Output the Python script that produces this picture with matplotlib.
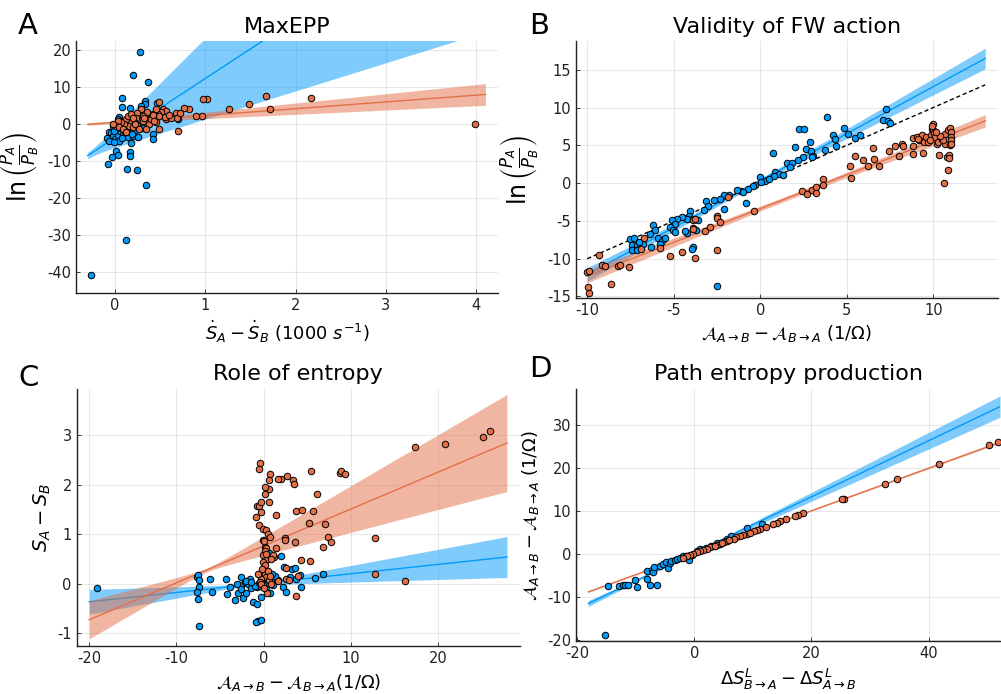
import numpy as np
import matplotlib
matplotlib.use("Agg")
import matplotlib.pyplot as plt

plt.rcParams['font.family'] = ['DejaVu Sans']
plt.rcParams['mathtext.fontset'] = 'dejavusans'
plt.rcParams['axes.unicode_minus'] = False

BLUE = '#009AFA'
ORANGE = '#E36F47'

# ---------------- Panel A data ----------------
A_blue_x = [0.28, 0.196, 0.37, 0.074, 0.336, 0.336, 0.074, 0.17, 0.29, 0.465, 0.70, 0.048,
            0.03, -0.026, -0.07, -0.044, -0.092, -0.063, -0.026, 0.004, 0.03, 0.055, 0.085,
            0.12, 0.14, 0.177, 0.2, 0.048, -0.007, 0.177, 0.26, 0.42, 0.42, 0.373, 0.011,
            0.03, -0.037, 0.17, 0.17, -0.074, 0.133, 0.25, 0.085, 0.1, 0.34, -0.26, 0.122,
            0.02, 0.06, 0.11, 0.15, 0.22, 0.08, -0.01, 0.05, 0.13, 0.19, 0.24, 0.31]
A_blue_y = [19.5, 13.2, 11.3, 7.2, 6.3, 5.6, 4.66, 4.5, 4.9, 5.8, 1.55, 2.08,
            1.37, -0.42, -2.0, -2.4, -3.7, -4.4, -3.1, -4.0, -2.9, -1.75, -2.6,
            -1.3, -3.5, -2.2, -3.1, -4.4, -4.9, -5.05, -3.5, -2.6, -4.0, 1.1, -7.1,
            -8.4, -8.9, -7.4, -8.6, -10.7, -12.0, -12.45, -0.4, 0.5, -16.5, -40.8, -31.2,
            -1.0, -0.6, -2.0, 0.2, -1.5, -3.8, -1.8, 0.8, -0.9, -2.7, -0.2, -1.1]
A_orange_x = [3.98, 2.17, 1.67, 1.72, 1.49, 1.26, 1.02, 0.96, 0.82, 0.97, 0.76, 0.70, 0.9,
              0.68, 0.49, 0.535, 0.565, 0.51, 0.565, 0.48, 0.425, 0.355, 0.355, 0.373,
              0.306, 0.27, 0.29, 0.25, 0.233, 0.214, 0.177, 0.159, 0.12, 0.1, 0.066, 0.03,
              0.011, 0.048, 0.085, 0.12, 0.196, 0.25, 0.306, 0.325, 0.4, 0.45, 0.49, 0.45,
              0.417, 0.436, 0.225, 0.27, 0.35, 0.49, 0.14, 0.177, 0.2, -0.018, 0.69, 0.62,
              0.72, 0.55, 0.6]
A_orange_y = [0.0, 7.2, 7.6, 4.2, 5.5, 4.1, 6.7, 2.2, 4.2, 6.7, 4.3, -1.75, 2.26,
              3.15, 6.0, 4.04, 3.6, 3.3, 1.55, 2.7, 2.7, 3.3, 1.37, 0.03,
              0.92, 2.7, 4.2, 3.15, 1.8, 0.48, 0.92, -0.4, 1.37, 0.03, 0.48, 0.92,
              -0.42, -0.86, -1.3, -2.2, -0.86, -0.24, 2.26, 1.8, 1.37, 0.48, 2.26, 4.04,
              2.44, 0.92, 0.03, -1.3, -1.3, -1.2, 2.26, 2.7, 1.8, 0.03, 1.8, 1.8,
              3.0, 2.0, 2.5]
# fit: [intercept, slope, h0, k, xc]  (band half-width = sqrt(h0^2 + k^2 (x-xc)^2))
A_blue_fit = [-3.65, 16.0, 0.9, 8.4, -0.3]
A_orange_fit = [0.55, 1.83, 0.3, 0.68, -0.2]
A_fit_range = [-0.3, 4.1]

# ---------------- Panel B data ----------------
B_blue_x = [7.26, 7.1, 7.4, 7.5, 3.83, 2.24, 2.52, 4.86, 5.09, 4.22, 4.3, 5.48, 5.76, 2.87,
            2.01, 4.35, 3.73, 2.64, 2.93, 3.03, 2.49, 2.2, 3.0, 0.75, 1.56, 1.85, 1.7, 0.84,
            1.1, 0.78, -0.02, 0.27, 0.02, -0.31, -0.4, -0.7, -1.14, -1.33, -0.83, -1.8, -2.1,
            -2.1, -2.3, -2.68, -3.14, -3.0, -3.27, -4.07, -4.14, -3.96, -4.26, -3.62, -4.5,
            -4.84, -5.1, -4.9, -5.2, -5.07, -4.9, -4.26, -4.35, -3.9, -3.7, -6.2, -6.1, -6.4,
            -6.3, -5.9, -5.7, -5.5, -5.8, -3.9, -3.96, -7.53, -7.3, -7.4, -7.15, -7.44, -6.96,
            -7.1, -6.76, -7.0, -2.49, 1.3, 0.5, -1.0]
B_blue_y = [9.79, 8.4, 8.2, 7.9, 8.68, 7.2, 7.1, 7.3, 6.5, 6.3, 5.8, 6.0, 6.4, 5.4,
            4.8, 4.9, 4.4, 4.5, 4.3, 3.6, 3.4, 3.0, 3.4, 4.0, 2.7, 2.7, 2.1, 1.5,
            1.26, 0.9, 0.8, 0.3, 0.15, -0.2, -0.4, -0.8, -1.1, -0.9, -2.6, -1.6, -1.6,
            -3.4, -2.1, -2.3, -2.4, -3.0, -3.5, -3.7, -4.4, -4.8, -4.8, -4.9, -4.5,
            -4.7, -4.9, -5.4, -5.8, -6.25, -6.5, -6.6, -6.3, -6.0, -6.2, -5.6, -6.25, -6.7,
            -8.5, -7.2, -7.6, -7.2, -8.0, -8.5, -8.7, -7.4, -7.2, -8.2, -8.2, -8.8, -8.6,
            -8.9, -8.1, -7.8, -13.6, 1.1, 0.6, -1.2]
B_orange_x = [-10.0, -9.9, -9.94, -9.88, -9.3, -9.17, -8.98, -8.65, -8.2, -8.1, -7.6, -6.72,
              -6.9, -5.8, -5.2, -4.55, -3.78, -3.9, -3.9, -3.78, -3.2, -2.91, -2.51, -2.48,
              -2.3, -2.52, -1.85, -0.39, 2.39, 2.72, 3.0, 3.22, 3.2, 3.6, 3.6, 5.18, 5.24,
              5.47, 5.95, 6.24, 6.53, 6.57, 6.88, 7.46, 7.78, 8.04, 8.17, 8.23, 8.81, 8.84,
              8.81, 9.04, 9.2, 9.33, 9.46, 9.42, 9.6, 9.7, 9.84, 9.9, 10.0, 10.0, 10.04, 10.1,
              10.2, 9.8, 10.27, 10.33, 10.48, 10.67, 10.7, 10.77, 10.63, 10.83, 10.87, 10.93,
              10.96, 10.96, 11.0, 11.0, 11.0, 11.0, 10.93, 10.58, 9.95, 10.4, 9.1, 10.15]
B_orange_y = [-11.8, -11.6, -13.7, -14.5, -9.5, -10.8, -11.0, -13.4, -11.0, -10.9, -11.1, -7.3,
              -8.7, -8.6, -9.7, -9.1, -9.9, -6.1, -4.9, -4.7, -6.3, -5.8, -4.3, -4.6,
              -5.2, -8.8, -1.8, -3.7, -1.0, -1.5, -0.85, -0.5, -1.3, 0.5, -0.3, 2.3, 0.7,
              3.55, 3.0, 2.2, 4.7, 3.2, 2.3, 4.3, 4.9, 3.6, 5.2, 4.9, 6.0, 4.9,
              3.9, 6.1, 5.7, 6.3, 5.5, 4.0, 6.1, 5.5, 6.3, 7.2, 7.8, 7.0, 6.6, 6.1,
              5.2, 5.7, 5.45, 3.7, 5.9, 6.5, 5.2, 3.5, 0.0, 7.0, 1.8, 3.7,
              5.1, 7.3, 6.8, 6.1, 5.7, 5.2, 3.3, 5.7, 7.5, 6.2, 5.9, 6.8]
B_blue_fit = [0.33, 1.243, 0.3, 0.095, -1.0]
B_orange_fit = [-3.37, 0.893, 0.3, 0.07, 2.0]
B_fit_range = [-10.0, 13.0]
B_ref_line = [-10.0, 13.0]   # y = x reference

# ---------------- Panel C data ----------------
C_orange_x = [25.92, 25.16, 20.84, 17.33, 12.74, 16.26, 12.82, 8.73, 8.92, 9.38, 5.48, 6.13,
              5.67, 5.18, 7.0, 7.4, 7.78, 6.82, 5.29, 3.38, 3.46, 2.73, 2.04, 1.66, 0.78,
              0.63, 0.63, 0.13, 0.13, -0.44, -0.55, -0.74, -0.51, -0.82, -0.25, -0.25, 0.6,
              1.47, 3.73, 4.42, 3.54, 2.4, 2.4, 4.23, 1.43, 2.62, -0.55, -0.06, 0.32, 0.5,
              0.78, -0.06, 0.2, 0.32, 0.13, -0.06, 0.5, 0.32, -0.06, 1.2, 1.05, 0.82, 0.13,
              -0.06, 0.13, 0.32, -0.25, 0.6, -0.06, 0.44, -0.44, 2.6, 2.9, 3.73, 3.94,
              0.0, 0.25, -0.2, 0.45, 0.7, -0.35, 0.05, 0.9, 1.6, -0.6]
C_orange_y = [3.08, 2.97, 2.82, 2.76, 0.93, 0.05, 0.2, 2.24, 2.28, 2.21, 2.27, 1.81,
              1.46, 1.23, 1.21, 0.94, 0.83, 0.73, 0.45, 2.09, 2.01, 2.17, 2.11, 2.11, 2.22,
              2.09, 1.92, 1.95, 1.82, 2.44, 2.31, 1.57, 1.56, 1.35, 1.65, 1.45, 1.64,
              1.38, 1.46, 1.48, 0.83, 0.93, 0.89, 0.47, 0.71, 0.32, 1.18, 1.11, 1.08, 1.0,
              0.94, 0.89, 0.74, 0.71, 0.66, 0.57, 0.54, 0.47, 0.44, 0.54, 0.57, 0.49, 0.37,
              0.27, 0.2, 0.13, 0.1, 0.07, -0.04, -0.19, 0.03, 0.1, 0.07, -0.26, 0.16,
              0.85, 0.6, 0.3, 0.25, 0.15, 0.0, -0.1, 0.0, 0.05, 0.2]
C_blue_x = [-19.08, -7.7, -7.5, -7.4, -7.4, -7.7, -7.5, -7.4, -6.17, -5.94, -4.34, -4.18,
            -3.9, -3.3, -2.9, -2.54, -2.65, -2.15, -2.35, -1.97, -1.78, -1.6, -1.4, -1.2,
            -0.8, -0.74, -0.63, -0.82, -0.36, -0.25, -0.44, -0.06, 0.9, 0.78, 1.08, 1.66,
            2.04, 2.35, 2.23, 2.6, 3.0, 3.3, 3.57, 3.76, 4.15, 4.34, 5.86, 6.8, 0.63,
            -3.0, -2.0, -1.0, -0.5, 0.3, 0.6, 1.3, -2.6, -1.5, 0.1, 1.0]
C_blue_y = [-0.10, 0.13, 0.18, 0.07, -0.07, -0.17, -0.31, -0.85, 0.09, -0.18, 0.09, -0.22,
            -0.07, -0.34, -0.2, 0.13, -0.04, 0.03, -0.29, -0.19, -0.02, 0.1, -0.1, -0.37,
            -0.07, -0.41, -0.76, -0.78, -0.73, -0.27, -0.06, 0.07, 0.07, -0.19, -0.04, 0.07,
            0.56, 0.33, -0.08, -0.17, 0.13, 0.3, 0.31, 0.09, 0.17, -0.08, 0.11, 0.2, 0.61,
            0.0, 0.05, -0.05, 0.02, -0.12, 0.12, 0.15, -0.12, 0.04, -0.02, 0.2]
C_orange_fit = [0.76, 0.0746, 0.04, 0.0285, -6.5]
C_blue_fit = [0.008, 0.0189, 0.03, 0.0138, -2.0]
C_fit_range = [-20.0, 27.9]

# ---------------- Panel D data ----------------
D_orange_x = [51.85, 50.26, 41.7, 34.6, 32.5, 25.5, 25.2, 18.6, 17.7, 17.2, 15.6, 14.6, 14.1,
              13.5, 12.2, 11.2, 10.65, 10.2, 8.95, 8.4, 7.8, 7.2, 6.7, 5.5, 5.0, 4.4, 3.8,
              3.25, 2.7, 2.1, 1.5, 1.0, 0.4, -0.2, -0.7, -1.3, -1.9, 6.0, 4.7, 3.5, 9.5]
D_orange_y = [25.97, 25.2, 20.9, 17.4, 16.3, 12.8, 12.8, 9.5, 9.1, 8.8, 8.0, 7.5, 7.2,
              7.0, 6.2, 5.8, 5.6, 5.3, 4.65, 4.3, 4.1, 3.9, 3.5, 2.9, 2.7, 2.3, 2.1,
              1.8, 1.55, 1.2, 0.9, 0.6, 0.4, 0.0, -0.4, -0.6, -0.9, 3.1, 2.4, 1.9, 4.9]
D_blue_x = [-15.3, -14.8, -12.8, -12.25, -11.8, -11.3, -10.1, -9.7, -8.15, -8.0, -7.6, -7.3,
            -7.1, -6.85, -6.4, -5.9, -5.3, -4.9, -4.55, -4.2, -3.9, -3.3, -2.9, -2.45, -1.9,
            -1.5, -0.85, -0.45, 0.4, 1.0, 2.0, 3.8, 5.5, 8.95, 11.5, 6.2, 2.8]
D_blue_y = [-19.0, -7.5, -7.6, -7.2, -7.2, -7.2, -6.2, -7.75, -4.0, -5.8, -7.4, -3.8,
            -4.3, -3.2, -7.2, -2.9, -2.3, -1.9, -3.3, -2.2, -1.8, -1.4, -1.2, -0.9, -0.6,
            -0.5, -1.55, -0.4, 0.6, 1.2, 1.4, 2.5, 3.5, 5.9, 7.0, 4.1, 1.8]
D_orange_fit = [0.07, 0.4957, 0.06, 0.004, 5.0]
D_blue_fit = [0.2, 0.652, 0.1, 0.045, -3.0]
D_fit_range = [-18.1, 52.2]

W, H = 1001, 694
fig = plt.figure(figsize=(W / 100, H / 100), dpi=100)


def box(l, t, r, b):
    return [l / W, 1 - b / H, (r - l) / W, (b - t) / H]


def style(ax, xlim, ylim, xticks, yticks):
    ax.set_xlim(xlim)
    ax.set_ylim(ylim)
    ax.set_xticks(xticks)
    ax.set_yticks(yticks)
    for s in ['top', 'right']:
        ax.spines[s].set_visible(False)
    for s in ['left', 'bottom']:
        ax.spines[s].set_linewidth(1.0)
        ax.spines[s].set_color('#222222')
    ax.grid(True, color='black', alpha=0.09, lw=0.8)
    ax.set_axisbelow(True)
    ax.tick_params(direction='in', length=3, width=0.6, labelsize=10.5, colors='#222222')


def fit_band(ax, fit, xr, color, z):
    a, b, h0, k, xc = fit
    xs = np.linspace(xr[0], xr[1], 200)
    ys = a + b * xs
    hw = np.sqrt(h0 ** 2 + (k * (xs - xc)) ** 2)
    ax.fill_between(xs, ys - hw, ys + hw, color=color, alpha=0.5, lw=0, zorder=z)
    ax.plot(xs, ys, color=color, lw=1.0, zorder=z + 0.1)


def pts(ax, x, y, color, z):
    ax.scatter(x, y, s=22, c=color, edgecolors='black', linewidths=0.7, zorder=z)


# ---- A ----
axA = fig.add_axes(box(76, 41, 498, 293))
style(axA, (-0.43, 4.24), (-45.6, 22.5), [0, 1, 2, 3, 4], [-40, -30, -20, -10, 0, 10, 20])
fit_band(axA, A_blue_fit, A_fit_range, BLUE, 2)
fit_band(axA, A_orange_fit, A_fit_range, ORANGE, 3)
pts(axA, A_blue_x, A_blue_y, BLUE, 5)
pts(axA, A_orange_x, A_orange_y, ORANGE, 6)
axA.set_title('MaxEPP', fontsize=16, pad=6)
axA.set_xlabel(r'$\dot{S}_A - \dot{S}_B$ (1000 $s^{-1}$)', fontsize=13)
axA.set_ylabel(r'$\ln\left(\frac{P_A}{P_B}\right)$', fontsize=17)
axA.yaxis.set_label_coords(-0.081, 0.5)

# ---- B ----
axB = fig.add_axes(box(576, 41, 998, 298))
style(axB, (-10.65, 13.74), (-15.2, 18.8), [-10, -5, 0, 5, 10], [-15, -10, -5, 0, 5, 10, 15])
fit_band(axB, B_blue_fit, B_fit_range, BLUE, 2)
fit_band(axB, B_orange_fit, B_fit_range, ORANGE, 3)
axB.plot(B_ref_line, B_ref_line, color='black', ls=(0, (3, 2)), lw=1.0, zorder=4)
pts(axB, B_blue_x, B_blue_y, BLUE, 5)
pts(axB, B_orange_x, B_orange_y, ORANGE, 6)
axB.set_title('Validity of FW action', fontsize=16, pad=6)
axB.set_xlabel(r'$\mathcal{A}_{A\rightarrow B} - \mathcal{A}_{B\rightarrow A}$ (1/Ω)', fontsize=13)
axB.set_ylabel(r'$\ln\left(\frac{P_A}{P_B}\right)$', fontsize=17)
axB.yaxis.set_label_coords(-0.081, 0.5)

# ---- C ----
axC = fig.add_axes(box(76.7, 388.7, 520, 646.3))
style(axC, (-21.44, 29.4), (-1.27, 3.94), [-20, -10, 0, 10, 20], [-1, 0, 1, 2, 3])
fit_band(axC, C_blue_fit, C_fit_range, BLUE, 2)
fit_band(axC, C_orange_fit, C_fit_range, ORANGE, 3)
pts(axC, C_blue_x, C_blue_y, BLUE, 5)
pts(axC, C_orange_x, C_orange_y, ORANGE, 6)
axC.set_title('Role of entropy', fontsize=16, pad=6)
axC.set_xlabel(r'$\mathcal{A}_{A\rightarrow B} - \mathcal{A}_{B\rightarrow A}$(1/Ω)', fontsize=13)
axC.set_ylabel(r'$S_A - S_B$', fontsize=14)
axC.yaxis.set_label_coords(-0.054, 0.5)

# ---- D ----
axD = fig.add_axes(box(576, 388.7, 1000, 641.3))
style(axD, (-20.2, 52.2), (-20.4, 38.4), [-20, 0, 20, 40], [-20, -10, 0, 10, 20, 30])
fit_band(axD, D_blue_fit, D_fit_range, BLUE, 2)
fit_band(axD, D_orange_fit, D_fit_range, ORANGE, 3)
pts(axD, D_blue_x, D_blue_y, BLUE, 5)
pts(axD, D_orange_x, D_orange_y, ORANGE, 6)
axD.set_title('Path entropy production', fontsize=16, pad=6)
axD.set_xlabel(r'$\Delta S^L_{B\rightarrow A} - \Delta S^L_{A\rightarrow B}$', fontsize=13)
axD.set_ylabel(r'$\mathcal{A}_{A\rightarrow B} - \mathcal{A}_{B\rightarrow A}$ (1/Ω)', fontsize=13)
axD.yaxis.set_label_coords(-0.083, 0.5)

# panel letters
for lab, x, y in [('A', 18, 12), ('B', 529, 12), ('C', 18, 364), ('D', 529, 355)]:
    fig.text(x / W, 1 - y / H, lab, fontsize=21, ha='left', va='top')

fig.savefig('out.png', dpi=100)
